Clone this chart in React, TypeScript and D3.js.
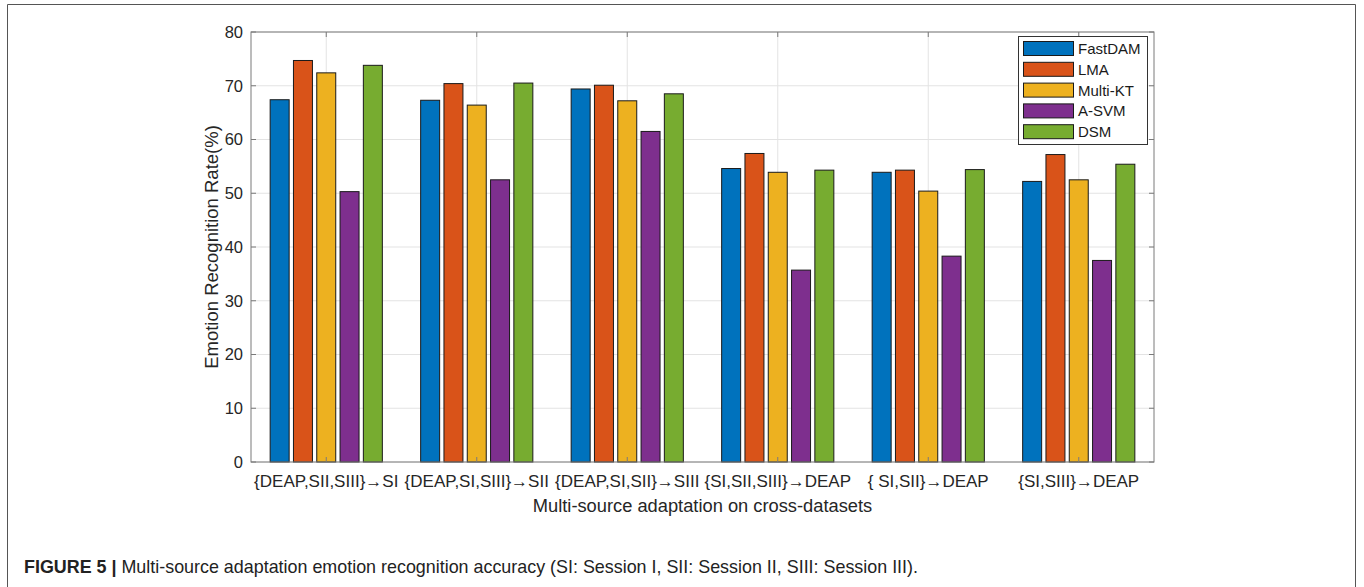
import React from "react";
import * as d3 from "d3";

const categories = [
  "{DEAP,SII,SIII}→SI",
  "{DEAP,SI,SIII}→SII",
  "{DEAP,SI,SII}→SIII",
  "{SI,SII,SIII}→DEAP",
  "{ SI,SII}→DEAP",
  "{SI,SIII}→DEAP",
];
const seriesNames = ["FastDAM", "LMA", "Multi-KT", "A-SVM", "DSM"];
const fastDAM = [67.4, 67.3, 69.4, 54.6, 53.9, 52.2];
const lma = [74.7, 70.4, 70.1, 57.4, 54.3, 57.2];
const multiKT = [72.4, 66.4, 67.2, 53.9, 50.4, 52.5];
const aSVM = [50.3, 52.5, 61.5, 35.7, 38.3, 37.5];
const dsm = [73.8, 70.5, 68.5, 54.3, 54.4, 55.4];
const seriesValues = [fastDAM, lma, multiKT, aSVM, dsm];
const colors = ["#0072BD", "#D95319", "#EDB120", "#7E2F8E", "#77AC30"];
const yTicks = [0, 10, 20, 30, 40, 50, 60, 70, 80];

const W = 1364;
const H = 587;
const plot = { left: 251, right: 1154, top: 32, bottom: 462 };
const FONT = "'Liberation Sans', Arial, Helvetica, sans-serif";

export default function App() {
  const x = d3.scaleBand<string>().domain(categories).range([plot.left, plot.right]).padding(0);
  const y = d3.scaleLinear().domain([0, 80]).range([plot.bottom, plot.top]);
  const groupW = 116.5;
  const xs = d3
    .scaleBand<string>()
    .domain(seriesNames)
    .range([-groupW / 2, groupW / 2])
    .paddingInner(0.185)
    .paddingOuter(0.0925);
  const axisColor = "#7a7a7a";
  const gridColor = "#e3e3e3";
  const tickLen = 5;

  return (
    <svg
      width={W}
      height={H}
      style={{ position: "absolute", left: 0, top: 0, background: "#fff" }}
      fontFamily={FONT}
    >
      <rect x={0} y={0} width={W} height={H} fill="#fff" />
      {/* outer frame */}
      <path d={`M7.5,${H + 2} V4.5 H1355.5 V${H + 2}`} fill="none" stroke="#555" strokeWidth={1} />

      {/* grid */}
      {yTicks.map((t) => (
        <line key={"gy" + t} x1={plot.left} x2={plot.right} y1={y(t)} y2={y(t)} stroke={gridColor} strokeWidth={1} />
      ))}
      {categories.map((c) => {
        const cx = (x(c) as number) + x.bandwidth() / 2;
        return <line key={"gx" + c} x1={cx} x2={cx} y1={plot.top} y2={plot.bottom} stroke={gridColor} strokeWidth={1} />;
      })}

      {/* bars */}
      {categories.map((c, ci) => {
        const cx = (x(c) as number) + x.bandwidth() / 2;
        return seriesNames.map((s, si) => {
          const v = seriesValues[si][ci];
          return (
            <rect
              key={c + s}
              x={cx + (xs(s) as number)}
              y={y(v)}
              width={xs.bandwidth()}
              height={y(0) - y(v)}
              fill={colors[si]}
              stroke="#1a1a1a"
              strokeWidth={1}
            />
          );
        });
      })}

      {/* axes box */}
      <rect
        x={plot.left}
        y={plot.top}
        width={plot.right - plot.left}
        height={plot.bottom - plot.top}
        fill="none"
        stroke={axisColor}
        strokeWidth={1}
      />
      {yTicks.map((t) => (
        <g key={"yt" + t}>
          <line x1={plot.left} x2={plot.left + tickLen} y1={y(t)} y2={y(t)} stroke={axisColor} />
          <line x1={plot.right} x2={plot.right - tickLen} y1={y(t)} y2={y(t)} stroke={axisColor} />
          <text x={plot.left - 8} y={y(t)} dy="0.36em" textAnchor="end" fontSize={16.5} fill="#262626">
            {t}
          </text>
        </g>
      ))}
      {categories.map((c) => {
        const cx = (x(c) as number) + x.bandwidth() / 2;
        return (
          <g key={"xt" + c}>
            <line x1={cx} x2={cx} y1={plot.bottom} y2={plot.bottom - tickLen} stroke={axisColor} />
            <line x1={cx} x2={cx} y1={plot.top} y2={plot.top + tickLen} stroke={axisColor} />
            <text x={cx} y={487} textAnchor="middle" fontSize={17} fill="#262626">
              {c}
            </text>
          </g>
        );
      })}

      {/* axis labels */}
      <text x={(plot.left + plot.right) / 2} y={512} textAnchor="middle" fontSize={18.3} fill="#262626">
        Multi-source adaptation on cross-datasets
      </text>
      <text
        transform={`translate(218,${(plot.top + plot.bottom) / 2}) rotate(-90)`}
        textAnchor="middle"
        fontSize={18.5}
        fill="#262626"
      >
        Emotion Recognition Rate(%)
      </text>

      {/* legend */}
      <g>
        <rect x={1018.5} y={36.5} width={129} height={108} fill="#fff" stroke="#333" strokeWidth={1} />
        {seriesNames.map((s, i) => {
          const cy = 48.5 + i * 20.8;
          return (
            <g key={"lg" + s}>
              <rect x={1023.5} y={cy - 7} width={50} height={14} fill={colors[i]} stroke="#1a1a1a" strokeWidth={1} />
              <text x={1078} y={cy} dy="0.36em" fontSize={15} fill="#1a1a1a">
                {s}
              </text>
            </g>
          );
        })}
      </g>

      {/* caption */}
      <text x={24} y={573} fontSize={17.9} fill="#222">
        <tspan fontWeight="bold">FIGURE 5 |</tspan>
        <tspan> Multi-source adaptation emotion recognition accuracy (SI: Session I, SII: Session II, SIII: Session III).</tspan>
      </text>
    </svg>
  );
}
